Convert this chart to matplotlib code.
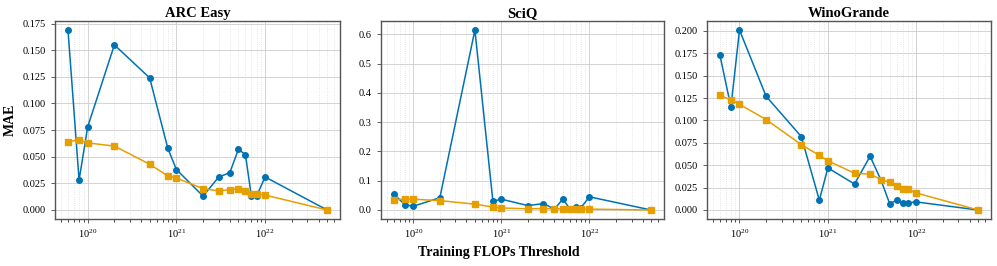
import matplotlib
matplotlib.use("Agg")
from matplotlib import pyplot as plt
from matplotlib.ticker import MultipleLocator

plt.rcParams['font.family'] = ['Liberation Serif', 'DejaVu Serif']
plt.rcParams['mathtext.fontset'] = 'stix'

# training FLOPs thresholds (shared x values)
flops = [6e19, 8e19, 1e20, 2e20, 5e20, 8e20, 1e21, 2e21, 3e21,
         4e21, 5e21, 6e21, 7e21, 8e21, 1e22, 5e22]

titles = ["ARC Easy", "SciQ", "WinoGrande"]

# blue series (circles)
arc_blue = [0.169, 0.028, 0.078, 0.155, 0.124, 0.058, 0.038, 0.013, 0.031,
            0.035, 0.057, 0.052, 0.013, 0.013, 0.031, 0.000]
sciq_blue = [0.055, 0.018, 0.013, 0.042, 0.615, 0.030, 0.037, 0.015, 0.022,
             0.003, 0.038, 0.003, 0.010, 0.008, 0.045, 0.000]
wino_blue = [0.173, 0.115, 0.201, 0.127, 0.082, 0.011, 0.047, 0.029, 0.060,
             0.033, 0.007, 0.011, 0.008, 0.008, 0.009, 0.000]

# orange series (squares)
arc_orange = [0.064, 0.066, 0.063, 0.060, 0.043, 0.032, 0.030, 0.020, 0.018,
              0.019, 0.020, 0.018, 0.015, 0.015, 0.014, 0.000]
sciq_orange = [0.034, 0.038, 0.037, 0.032, 0.020, 0.010, 0.007, 0.004, 0.005,
               0.004, 0.004, 0.004, 0.004, 0.004, 0.003, 0.000]
wino_orange = [0.128, 0.123, 0.118, 0.101, 0.073, 0.061, 0.055, 0.041, 0.040,
               0.034, 0.031, 0.027, 0.023, 0.023, 0.019, 0.000]

blue_sets = [arc_blue, sciq_blue, wino_blue]
orange_sets = [arc_orange, sciq_orange, wino_orange]
y_steps = [0.025, 0.1, 0.025]

fig = plt.figure(figsize=(9.97, 2.66), dpi=100)
positions = [[0.0552, 0.1767, 0.2859, 0.7444],
             [0.3821, 0.1767, 0.2838, 0.7444],
             [0.7091, 0.1767, 0.2849, 0.7444]]

for i in range(3):
    ax = fig.add_axes(positions[i])
    ax.plot(flops, blue_sets[i], color='#0072B2', marker='o', markersize=4,
            linewidth=1.1)
    ax.plot(flops, orange_sets[i], color='#E69F00', marker='s', markersize=4,
            linewidth=1.1)
    ax.set_xscale('log')
    ax.yaxis.set_major_locator(MultipleLocator(y_steps[i]))
    ax.set_title(titles[i], fontsize=10.5, fontweight='bold', pad=3)
    ax.grid(True, which='major', color='#cccccc', linewidth=0.6)
    ax.grid(True, which='minor', color='#dddddd', linestyle=':', linewidth=0.6)
    ax.tick_params(labelsize=7.5, length=3, width=0.6, color='#444444')
    ax.tick_params(which='minor', length=1.8, width=0.5)
    for s in ax.spines.values():
        s.set_color('#555555')
        s.set_linewidth(1.0)
    if i == 0:
        ax.set_ylabel('MAE', fontsize=10, fontweight='bold')

fig.text(0.5, 0.05, 'Training FLOPs Threshold', ha='center', va='center',
         fontsize=10, fontweight='bold')

fig.savefig('out.png', dpi=100)
